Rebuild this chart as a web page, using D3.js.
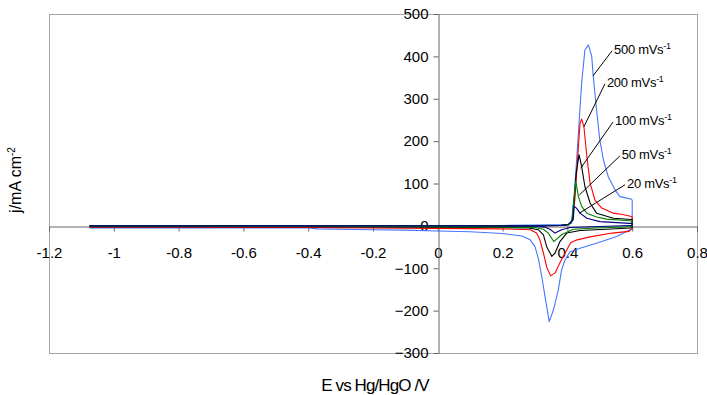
<!DOCTYPE html>
<html>
<head>
<meta charset="utf-8">
<script src="https://cdn.jsdelivr.net/npm/d3@7"></script>
<style>
  body { margin: 0; background: #fff; }
  text { font-family: "Liberation Sans", Arial, sans-serif; fill: #000; }
</style>
</head>
<body>
<svg id="chart" width="707" height="395"></svg>
<script>
"use strict";

// Cyclic voltammograms at five scan rates, E (V vs Hg/HgO) vs j (mA cm-2).
// Each series: anodic sweep up to 0.6 V, then cathodic sweep back.

const scanRates = ["500", "200", "100", "50", "20"];
const colors = ["#4477ff", "#ff0000", "#000000", "#008000", "#000080"];

const cv500 = [
  [-1.075, -4], [-0.8, -3], [-0.6, -2], [-0.4, -1], [-0.2, 0], [0, 1], [0.2, 1], [0.3, 2], [0.38, 3],
  [0.405, 4], [0.413, 6], [0.423, 93], [0.434, 219], [0.444, 337], [0.454, 415], [0.465, 427],
  [0.475, 400], [0.48, 352], [0.49, 274], [0.5, 203], [0.511, 156], [0.526, 116], [0.547, 85],
  [0.562, 69], [0.58, 66], [0.598, 63], [0.6, 60],
  [0.6, -8], [0.593, -9], [0.552, -25], [0.49, -41], [0.439, -53], [0.408, -61], [0.393, -80],
  [0.382, -104], [0.372, -151], [0.357, -198], [0.344, -226], [0.331, -167], [0.321, -120],
  [0.31, -76], [0.3, -49], [0.285, -33], [0.26, -24], [0.2, -18], [0.1, -14], [0, -12],
  [-0.1, -10], [-0.2, -9], [-0.37, -7], [-0.4, -5], [-0.8, -5], [-1.075, -5]
];

const cv200 = [
  [-1.075, 0], [-0.8, -1], [-0.4, -1], [0, 0], [0.2, 0], [0.38, 1], [0.405, 4], [0.414, 12],
  [0.423, 61], [0.434, 187], [0.439, 242], [0.444, 252], [0.451, 234], [0.46, 164], [0.47, 101],
  [0.485, 61], [0.506, 42], [0.542, 30], [0.57, 27], [0.598, 22], [0.6, 20],
  [0.6, -6], [0.59, -13], [0.538, -17], [0.47, -26], [0.43, -33], [0.41, -40], [0.393, -64],
  [0.377, -87], [0.362, -111], [0.348, -118], [0.336, -97], [0.326, -64], [0.315, -33],
  [0.305, -17], [0.285, -9], [0.2, -7], [0, -6], [-0.4, -4], [-0.8, -3], [-1.075, -3]
];

const cv100 = [
  [-1.075, 0], [-0.8, 0], [-0.4, 0], [0, 0], [0.2, 0], [0.38, 1], [0.405, 3], [0.416, 14],
  [0.421, 61], [0.427, 124], [0.436, 168], [0.444, 140], [0.454, 93], [0.47, 54], [0.49, 30],
  [0.542, 18], [0.598, 15], [0.6, 14],
  [0.6, -4], [0.593, -5], [0.521, -8], [0.439, -11], [0.398, -17], [0.377, -37], [0.362, -64],
  [0.352, -72], [0.336, -49], [0.326, -21], [0.31, -9], [0.28, -5], [0.2, -4], [0, -3],
  [-0.4, -2], [-1.075, -2]
];

const cv50 = [
  [-1.075, 0], [-0.8, 0], [-0.4, 0], [0, 0], [0.2, 0], [0.38, 1], [0.405, 3], [0.414, 14],
  [0.418, 46], [0.426, 105], [0.434, 69], [0.444, 46], [0.46, 30], [0.49, 21], [0.521, 16],
  [0.593, 12], [0.6, 11],
  [0.6, -2], [0.593, -2], [0.49, -5], [0.418, -8], [0.382, -21], [0.358, -37], [0.341, -17],
  [0.326, -8], [0.3, -4], [0.2, -3], [0, -2], [-0.4, -1], [-1.075, -1]
];

const cv20 = [
  [-1.075, 0], [-0.8, 0], [-0.4, 0], [0, 0], [0.2, 0], [0.38, 1], [0.4, 3], [0.408, 7],
  [0.418, 14], [0.421, 46], [0.428, 42], [0.439, 30], [0.46, 18], [0.5, 10], [0.593, 6], [0.6, 6],
  [0.6, 1], [0.593, 1], [0.408, -4], [0.382, -9], [0.362, -17], [0.346, -8], [0.331, -3],
  [0.3, -1], [0, 0], [-1.075, 0]
];

const series = [cv500, cv200, cv100, cv50, cv20];

const xTicks = [-1.2, -1, -0.8, -0.6, -0.4, -0.2, 0, 0.2, 0.4, 0.6, 0.8];
const yTicks = [-300, -200, -100, 0, 100, 200, 300, 400, 500];

// label baseline-left positions and the curve point each leader points at (data units)
const labelE = [0.544, 0.522, 0.547, 0.568, 0.584];
const labelJ = [406, 328, 238, 158, 90];
const leaderE = [0.479, 0.451, 0.441, 0.437, 0.437];
const leaderJ = [354, 234, 136, 73, 30];

const svg = d3.select("#chart");

const x = d3.scaleLinear().domain([-1.2, 0.8]).range([49, 697]);
const y = d3.scaleLinear().domain([-300, 500]).range([353, 14]);

// plot area border
svg.append("rect")
  .attr("x", x(-1.2) + 0.5)
  .attr("y", y(500) + 0.5)
  .attr("width", x(0.8) - x(-1.2))
  .attr("height", y(-300) - y(500))
  .attr("fill", "none")
  .attr("stroke", "#a6a6a6")
  .attr("stroke-width", 1);

// x axis through j = 0
let xAxis = svg.append("g")
  .attr("transform", `translate(0,${Math.round(y(0)) + 0.5})`)
  .call(d3.axisBottom(x).tickValues(xTicks).tickSizeInner(5).tickSizeOuter(0)
        .tickFormat(d => String(+d.toFixed(1))));
xAxis.select(".domain").attr("stroke", "#666");
xAxis.selectAll(".tick line").attr("stroke", "#666");
xAxis.selectAll(".tick text")
  .attr("y", 21)
  .attr("font-size", "15px")
  .attr("font-family", "Liberation Sans, Arial, sans-serif")
  .attr("fill", "#000");

// y axis through E = 0
let yAxis = svg.append("g")
  .attr("transform", `translate(${Math.round(x(0)) + 0.5},0)`)
  .call(d3.axisLeft(y).tickValues(yTicks).tickSizeInner(5).tickSizeOuter(0).tickPadding(5));
yAxis.select(".domain").attr("stroke", "#666");
yAxis.selectAll(".tick line").attr("stroke", "#666");
yAxis.selectAll(".tick text")
  .attr("font-size", "15px")
  .attr("font-family", "Liberation Sans, Arial, sans-serif")
  .attr("fill", "#000");

// curves
const line = d3.line().x(d => x(d[0])).y(d => y(d[1]));
svg.append("g")
  .selectAll("path")
  .data(series)
  .join("path")
  .attr("d", line)
  .attr("fill", "none")
  .attr("stroke", (d, i) => colors[i])
  .attr("stroke-width", 1.1)
  .attr("stroke-linejoin", "round");

// leaders and labels
let notes = svg.append("g");
scanRates.forEach((rate, i) => {
  let lx = x(labelE[i]);
  let ly = y(labelJ[i]);
  notes.append("line")
    .attr("x1", lx - 2)
    .attr("y1", ly - 3)
    .attr("x2", x(leaderE[i]))
    .attr("y2", y(leaderJ[i]))
    .attr("stroke", "#000")
    .attr("stroke-width", 1);
  let t = notes.append("text")
    .attr("x", lx)
    .attr("y", ly)
    .attr("font-size", "13px")
    .attr("letter-spacing", "-0.3px");
  t.append("tspan").text(`${rate} mVs`);
  t.append("tspan").attr("dy", -5).attr("font-size", "9px").text("-1");
});

// axis titles
let yTitle = svg.append("text")
  .attr("transform", "translate(21,180) rotate(-90)")
  .attr("text-anchor", "middle")
  .attr("font-size", "16px");
yTitle.append("tspan").text("j/mA cm");
yTitle.append("tspan").attr("dy", -6).attr("font-size", "10px").text("-2");

svg.append("text")
  .attr("x", 375)
  .attr("y", 391)
  .attr("text-anchor", "middle")
  .attr("font-size", "17px")
  .attr("letter-spacing", "-0.9px")
  .text("E vs Hg/HgO /V");
</script>
</body>
</html>
